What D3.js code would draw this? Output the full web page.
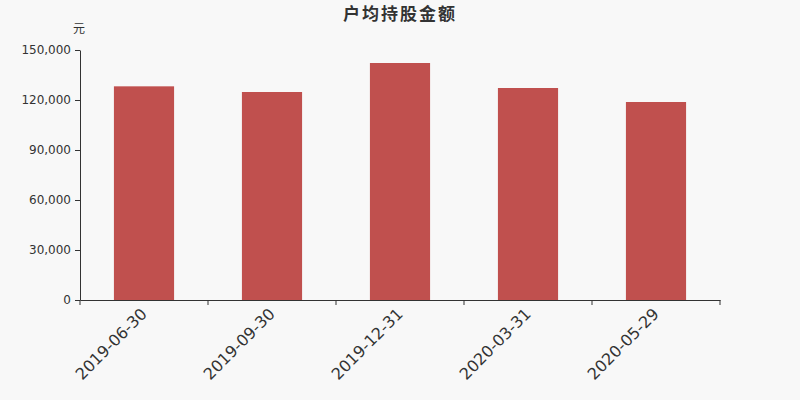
<!DOCTYPE html>
<html lang="zh">
<head>
    <meta charset="UTF-8">
    <title>户均持股金额</title>
    <style>
        body { margin: 0; background-color: #f8f8f8; }
        svg { display: block; }
        .axis path, .axis line { stroke: #333; }
        .axis text { fill: #333; }
    </style>
</head>
<body>
    <svg width="800" height="400"></svg>
    <script src="https://cdn.jsdelivr.net/npm/d3@7"></script>
    <script>
        const categories = ["2019-06-30", "2019-09-30", "2019-12-31", "2020-03-31", "2020-05-29"];
        const values = [128200, 124800, 142200, 127200, 118800];
        const yTicks = [0, 30000, 60000, 90000, 120000, 150000];

        const svg = d3.select("svg");
        const margin = { top: 50, right: 80, bottom: 100, left: 80 };
        const width = +svg.attr("width");
        const height = +svg.attr("height");
        const latin = "'DejaVu Sans', sans-serif";
        const cjk = "'Noto Sans CJK SC', sans-serif";

        svg.append("rect")
            .attr("width", width)
            .attr("height", height)
            .attr("fill", "#f8f8f8");

        const x = d3.scaleBand()
            .domain(categories)
            .range([margin.left, width - margin.right])
            .paddingInner(0.53)
            .paddingOuter(0.265);

        const xAxisScale = d3.scaleBand()
            .domain(categories)
            .range([margin.left, width - margin.right]);

        const y = d3.scaleLinear()
            .domain([0, 150000])
            .range([height - margin.bottom, margin.top]);

        // title and unit
        svg.append("text")
            .attr("x", width / 2)
            .attr("y", 20)
            .attr("text-anchor", "middle")
            .attr("font-size", 17)
            .attr("font-weight", "bold")
            .attr("letter-spacing", 2)
            .attr("fill", "#333")
            .attr("font-family", cjk)
            .text("户均持股金额");

        svg.append("text")
            .attr("x", 79)
            .attr("y", 33)
            .attr("text-anchor", "middle")
            .attr("font-size", 12)
            .attr("fill", "#333")
            .attr("font-family", cjk)
            .text("元");

        // bars
        svg.selectAll(".bar")
            .data(values)
            .enter()
            .append("rect")
            .attr("class", "bar")
            .attr("x", (d, i) => x(categories[i]))
            .attr("y", d => y(d))
            .attr("width", x.bandwidth())
            .attr("height", d => y(0) - y(d))
            .attr("fill", "#c0504e");

        // y axis
        svg.append("g")
            .attr("class", "axis")
            .attr("transform", `translate(${margin.left},0)`)
            .call(d3.axisLeft(y).tickValues(yTicks).tickSize(5).tickSizeOuter(0).tickPadding(4)
                .tickFormat(d3.format(",")))
            .attr("font-family", latin)
            .attr("font-size", 12);

        // x axis, ticks between categories
        const xg = svg.append("g")
            .attr("class", "axis")
            .attr("transform", `translate(0,${height - margin.bottom})`)
            .call(d3.axisBottom(xAxisScale).tickSize(0).tickSizeOuter(0).tickPadding(0))
            .attr("font-family", latin)
            .attr("font-size", 16);

        const bounds = categories.map(c => xAxisScale(c)).concat([width - margin.right]);
        xg.selectAll(".sep")
            .data(bounds)
            .enter()
            .append("line")
            .attr("class", "sep")
            .attr("x1", d => d)
            .attr("x2", d => d)
            .attr("y1", 0)
            .attr("y2", 5);

        xg.selectAll(".tick text")
            .attr("text-anchor", "end")
            .attr("dy", "0.35em")
            .attr("transform", "translate(0,11) rotate(-45)");
    </script>
</body>
</html>
